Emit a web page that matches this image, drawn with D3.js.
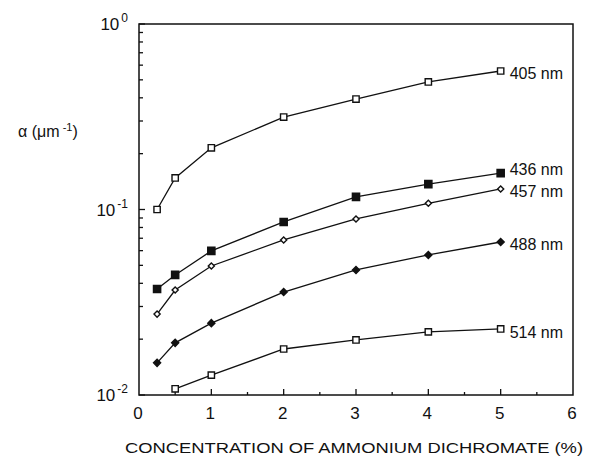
<!DOCTYPE html>
<html>
<head>
<meta charset="utf-8">
<script src="https://cdn.jsdelivr.net/npm/d3@7"></script>
<style>
  body { margin: 0; background: #fff; }
  text { font-family: "Liberation Sans", Arial, sans-serif; fill: #111; }
</style>
</head>
<body>
<svg id="chart"></svg>
<script>
const concentration = [0.25, 0.5, 1, 2, 3, 4, 5];
const wavelengths = ["405 nm", "436 nm", "457 nm", "488 nm", "514 nm"];
const alpha405 = [0.100, 0.148, 0.215, 0.315, 0.394, 0.487, 0.558];
const alpha436 = [0.0373, 0.0444, 0.0598, 0.0857, 0.117, 0.137, 0.157];
const alpha457 = [0.0273, 0.0368, 0.0496, 0.0685, 0.0889, 0.108, 0.129];
const alpha488 = [0.0149, 0.0191, 0.0244, 0.0359, 0.0472, 0.0569, 0.0668];
const alpha514 = [null, 0.0108, 0.0128, 0.0177, 0.0198, 0.0219, 0.0227];
const xTicks = [0, 1, 2, 3, 4, 5, 6];
const yDecades = [["10", "0"], ["10", "-1"], ["10", "-2"]];

const width = 593, height = 462;
const margin = { top: 24, right: 20, bottom: 67, left: 139 };
const innerW = width - margin.left - margin.right;
const innerH = height - margin.top - margin.bottom;

const svg = d3.select("#chart")
    .attr("width", width)
    .attr("height", height);

const x = d3.scaleLinear().domain([0, 6]).range([margin.left, margin.left + innerW]);
const y = d3.scaleLog().domain([0.01, 1]).range([margin.top + innerH, margin.top]);

// frame
svg.append("rect")
    .attr("x", margin.left)
    .attr("y", margin.top)
    .attr("width", innerW)
    .attr("height", innerH)
    .attr("fill", "none")
    .attr("stroke", "#111")
    .attr("stroke-width", 1.5);

// y ticks, inside the frame
const yMinor = [];
[0.01, 0.1].forEach(d => { for (let k = 1; k < 10; k++) yMinor.push(d * k); });
svg.append("g")
    .selectAll("line")
    .data(yMinor.concat([1]))
    .enter()
    .append("line")
    .attr("x1", margin.left)
    .attr("x2", (d, i) => margin.left + (i % 9 === 0 ? 6 : 4))
    .attr("y1", d => y(d))
    .attr("y2", d => y(d))
    .attr("stroke", "#111")
    .attr("stroke-width", 1.3);

const yLab = svg.append("g")
    .selectAll("text")
    .data(yDecades)
    .enter()
    .append("text")
    .attr("x", 128)
    .attr("y", (d, i) => y(Math.pow(10, -i)) + 6)
    .attr("text-anchor", "end")
    .style("font-size", "17px");
yLab.append("tspan").text(d => d[0]);
yLab.append("tspan")
    .attr("dy", -8)
    .attr("dx", 2)
    .style("font-size", "12px")
    .text(d => d[1]);

// x ticks
const xHalf = d3.range(0.5, 6, 0.5);
svg.append("g")
    .selectAll("line")
    .data(xHalf)
    .enter()
    .append("line")
    .attr("x1", d => x(d))
    .attr("x2", d => x(d))
    .attr("y1", margin.top + innerH)
    .attr("y2", d => margin.top + innerH - (d % 1 === 0 ? 6 : 3))
    .attr("stroke", "#111")
    .attr("stroke-width", 1.3);

svg.append("g")
    .selectAll("text")
    .data(xTicks)
    .enter()
    .append("text")
    .attr("x", d => x(d) - 1)
    .attr("y", 419)
    .attr("text-anchor", "middle")
    .style("font-size", "17px")
    .text(d => d);

// axis titles
svg.append("text")
    .attr("x", 125)
    .attr("y", 453)
    .attr("textLength", 458)
    .attr("lengthAdjust", "spacingAndGlyphs")
    .style("font-size", "14px")
    .text("CONCENTRATION  OF  AMMONIUM  DICHROMATE  (%)");

const yt = svg.append("text")
    .attr("x", 18)
    .attr("y", 137)
    .style("font-size", "16px");
yt.append("tspan").text("α (μm");
yt.append("tspan").attr("dy", -6).style("font-size", "11px").text(" -1");
yt.append("tspan").attr("dy", 6).text(")");

// series
const diamond = d3.symbolDiamond2 || d3.symbolDiamond;
const series = [
    { name: wavelengths[0], values: alpha405, shape: d3.symbolSquare, fill: "#fff", size: 40 },
    { name: wavelengths[1], values: alpha436, shape: d3.symbolSquare, fill: "#111", size: 52 },
    { name: wavelengths[2], values: alpha457, shape: diamond, fill: "#fff", size: 24 },
    { name: wavelengths[3], values: alpha488, shape: diamond, fill: "#111", size: 32 },
    { name: wavelengths[4], values: alpha514, shape: d3.symbolSquare, fill: "#fff", size: 40 }
];

const line = d3.line()
    .x(d => x(d[0]))
    .y(d => y(d[1]));

const labelDy = [2, -4, 2, 2, 3];

series.forEach((s, si) => {
    const pts = concentration.map((c, i) => [c, s.values[i]]).filter(d => d[1] != null);
    const g = svg.append("g");

    g.append("path")
        .datum(pts)
        .attr("d", line)
        .attr("fill", "none")
        .attr("stroke", "#111")
        .attr("stroke-width", 1.3);

    g.selectAll("path.pt")
        .data(pts)
        .enter()
        .append("path")
        .attr("class", "pt")
        .attr("transform", d => `translate(${x(d[0])},${y(d[1])})`)
        .attr("d", d3.symbol().type(s.shape).size(s.size))
        .attr("fill", s.fill)
        .attr("stroke", "#111")
        .attr("stroke-width", 1.4);

    const last = pts[pts.length - 1];
    g.append("text")
        .attr("x", x(last[0]) + 9)
        .attr("y", y(last[1]) + 6 + labelDy[si])
        .style("font-size", "16px")
        .text(s.name);
});
</script>
</body>
</html>
